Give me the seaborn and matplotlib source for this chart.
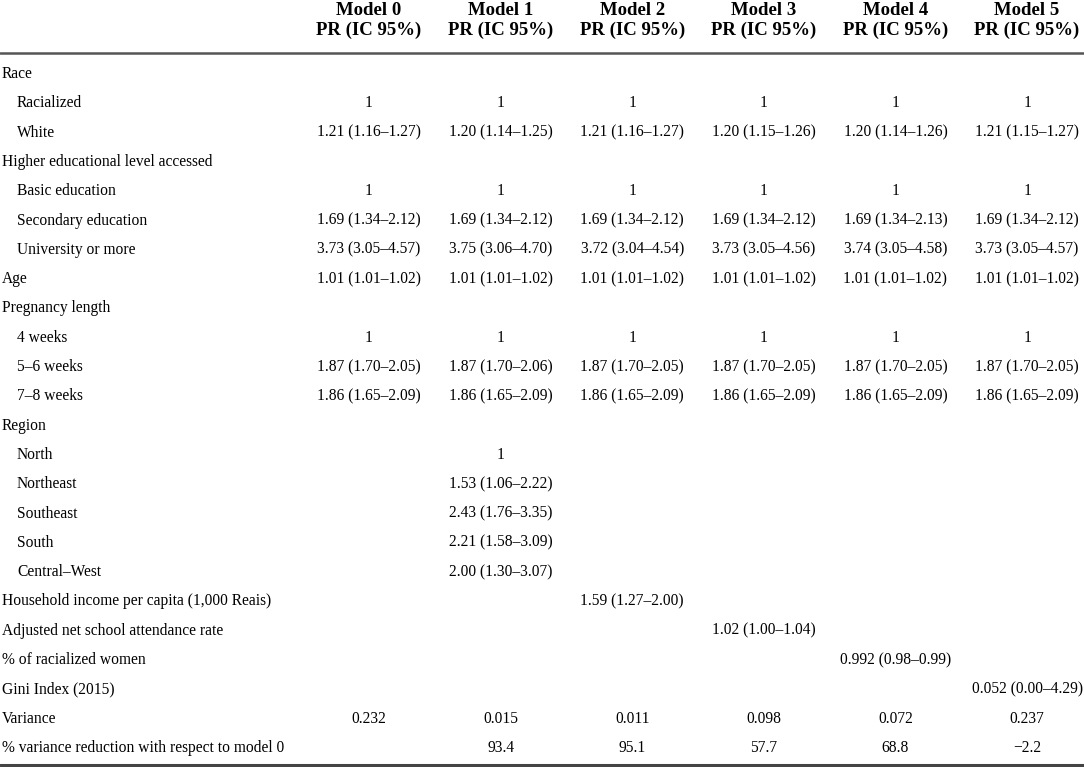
import matplotlib
matplotlib.use("Agg")
import matplotlib.pyplot as plt
import seaborn as sns

# Dados da tabela
models = ["Model 0", "Model 1", "Model 2", "Model 3", "Model 4", "Model 5"]
subheader = "PR (IC 95%)"

row_labels = [
    "Race", "Racialized", "White",
    "Higher educational level accessed", "Basic education", "Secondary education", "University or more",
    "Age",
    "Pregnancy length", "4 weeks", "5–6 weeks", "7–8 weeks",
    "Region", "North", "Northeast", "Southeast", "South", "Central–West",
    "Household income per capita (1,000 Reais)",
    "Adjusted net school attendance rate",
    "% of racialized women",
    "Gini Index (2015)",
    "Variance",
    "% variance reduction with respect to model 0",
]
row_indent = [0, 1, 1, 0, 1, 1, 1, 0, 0, 1, 1, 1, 0, 1, 1, 1, 1, 1, 0, 0, 0, 0, 0, 0]

model0 = ["", "1", "1.21 (1.16–1.27)", "", "1", "1.69 (1.34–2.12)", "3.73 (3.05–4.57)",
          "1.01 (1.01–1.02)", "", "1", "1.87 (1.70–2.05)", "1.86 (1.65–2.09)",
          "", "", "", "", "", "", "", "", "", "", "0.232", ""]
model1 = ["", "1", "1.20 (1.14–1.25)", "", "1", "1.69 (1.34–2.12)", "3.75 (3.06–4.70)",
          "1.01 (1.01–1.02)", "", "1", "1.87 (1.70–2.06)", "1.86 (1.65–2.09)",
          "", "1", "1.53 (1.06–2.22)", "2.43 (1.76–3.35)", "2.21 (1.58–3.09)", "2.00 (1.30–3.07)",
          "", "", "", "", "0.015", "93.4"]
model2 = ["", "1", "1.21 (1.16–1.27)", "", "1", "1.69 (1.34–2.12)", "3.72 (3.04–4.54)",
          "1.01 (1.01–1.02)", "", "1", "1.87 (1.70–2.05)", "1.86 (1.65–2.09)",
          "", "", "", "", "", "", "1.59 (1.27–2.00)", "", "", "", "0.011", "95.1"]
model3 = ["", "1", "1.20 (1.15–1.26)", "", "1", "1.69 (1.34–2.12)", "3.73 (3.05–4.56)",
          "1.01 (1.01–1.02)", "", "1", "1.87 (1.70–2.05)", "1.86 (1.65–2.09)",
          "", "", "", "", "", "", "", "1.02 (1.00–1.04)", "", "", "0.098", "57.7"]
model4 = ["", "1", "1.20 (1.14–1.26)", "", "1", "1.69 (1.34–2.13)", "3.74 (3.05–4.58)",
          "1.01 (1.01–1.02)", "", "1", "1.87 (1.70–2.05)", "1.86 (1.65–2.09)",
          "", "", "", "", "", "", "", "", "0.992 (0.98–0.99)", "", "0.072", "68.8"]
model5 = ["", "1", "1.21 (1.15–1.27)", "", "1", "1.69 (1.34–2.12)", "3.73 (3.05–4.57)",
          "1.01 (1.01–1.02)", "", "1", "1.87 (1.70–2.05)", "1.86 (1.65–2.09)",
          "", "", "", "", "", "", "", "", "", "0.052 (0.00–4.29)", "0.237", "−2.2"]
columns = [model0, model1, model2, model3, model4, model5]

# Estética
sns.set_theme(style="white")
plt.rcParams["font.family"] = ["Liberation Serif", "DejaVu Serif"]

fig = plt.figure(figsize=(10.84, 7.67), dpi=100)
ax = fig.add_axes([0, 0, 1, 1])
# eixo x = índice da coluna, eixo y = índice da linha
ax.set_xlim(-2.804, 5.433)
ax.set_ylim(23.65, -2.526)
ax.axis("off")

body_size = 11.2
head_size = 13.5

# Cabeçalho
for k, name in enumerate(models):
    ax.text(k, -2.18, name, ha="center", va="center", fontsize=head_size, fontweight="bold", color="black")
    ax.text(k, -1.50, subheader, ha="center", va="center", fontsize=head_size, fontweight="bold", color="black")

ax.axhline(-0.717, color="#555555", lw=1.8)
ax.axhline(23.58, color="#444444", lw=2.2)

# Rótulos das linhas
for i, (label, ind) in enumerate(zip(row_labels, row_indent)):
    x = -2.789 + 0.114 * ind
    ax.text(x, i, label, ha="left", va="center", fontsize=body_size, color="black")

# Valores
for k, col in enumerate(columns):
    for i, val in enumerate(col):
        if val:
            ax.text(k, i, val, ha="center", va="center", fontsize=body_size, color="black")

fig.savefig("out.png", dpi=100, facecolor="white")
plt.close(fig)
